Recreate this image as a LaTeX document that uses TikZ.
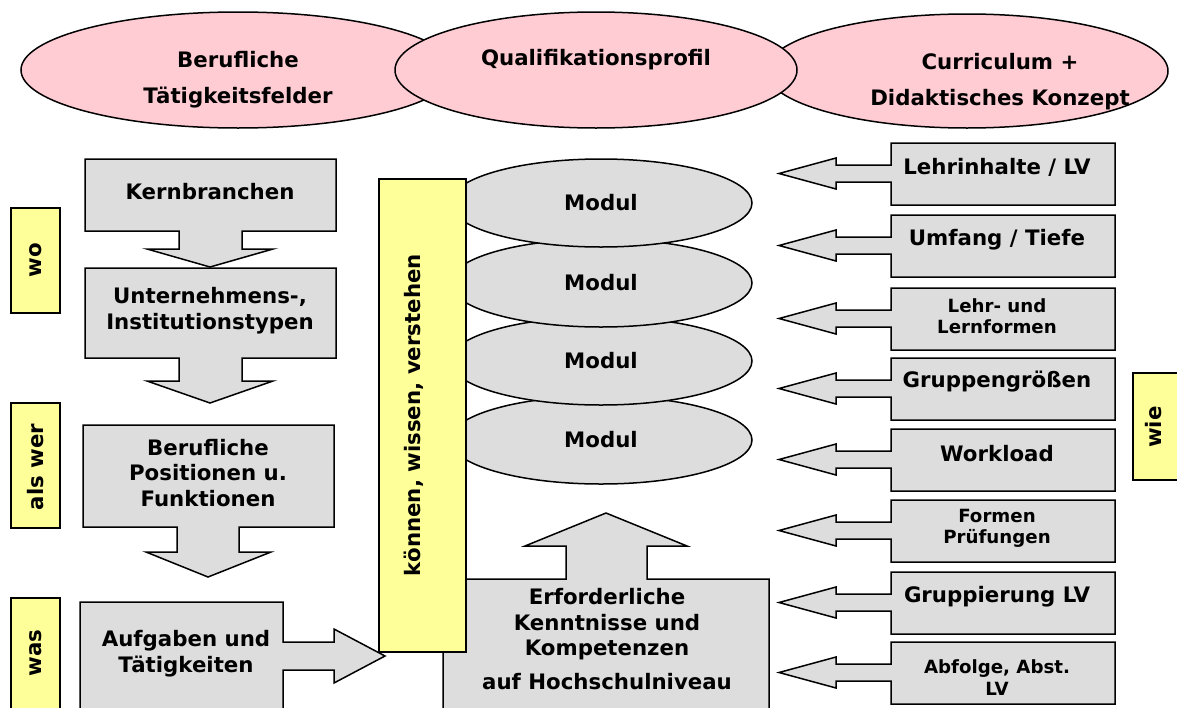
\documentclass[tikz,border=0pt]{standalone}
\usepackage{fontspec}
\setmainfont{DejaVu Sans}
\usetikzlibrary{shapes}

\definecolor{rosa}{RGB}{255,204,212}
\definecolor{hellgrau}{RGB}{221,221,221}
\definecolor{gelb}{RGB}{255,255,153}

\begin{document}
\begin{tikzpicture}[x=1pt,y=-1pt]
	\tikzstyle{oval}=[ellipse,draw,line width=1.5pt,inner sep=0pt]
	\tikzstyle{rosaoval}=[oval,fill=rosa,minimum height=116pt]
	\tikzstyle{modul}=[oval,fill=hellgrau,minimum width=302pt,minimum height=88pt,font=\bfseries\fontsize{21.3}{25}\selectfont]
	\tikzstyle{callout}=[draw,fill=hellgrau,line width=1.5pt]
	\tikzstyle{marke}=[draw,fill=gelb,line width=1.5pt]
	\tikzstyle{txt}=[align=center,font=\bfseries\fontsize{21.3}{25.5}\selectfont,inner sep=0pt]
	\tikzstyle{kleintxt}=[txt,font=\bfseries\fontsize{18.2}{21.5}\selectfont]
	\tikzstyle{ovaltxt}=[txt,font=\bfseries\fontsize{21.3}{36}\selectfont]
	\tikzstyle{hoch}=[txt,rotate=90]

	\useasboundingbox (0,0) rectangle (1177,707);
	\clip (0,0) rectangle (1177,707);

	% Kopfzeile
	\node[rosaoval,minimum width=434pt] (taet) at (238,70) {};
	\node[rosaoval,minimum width=402pt,minimum height=114pt] (curr) at (967,71) {};
	\node[rosaoval,minimum width=402pt] (quali) at (596,70) {};
	\node[ovaltxt] (taettxt) at (238,80) {Berufliche\\Tätigkeitsfelder};
	\node[txt] (qualitxt) at (596,60) {Qualifikationsprofil};
	\node[ovaltxt] (currtxt) at (1000,81.5) {Curriculum +\\Didaktisches Konzept};

	% wo, als wer, was
	\draw[callout] (85,159) -- (336,159) -- (336,231) -- (242,231) -- (242,249) -- (273,249) -- (210,267)
		-- (147,249) -- (179,249) -- (179,231) -- (85,231) -- cycle;
	\draw[callout] (85,268) -- (336,268) -- (336,358) -- (242,358) -- (242,381) -- (273,381) -- (210,403)
		-- (147,381) -- (179,381) -- (179,358) -- (85,358) -- cycle;
	\draw[callout] (83,425) -- (334,425) -- (334,527) -- (239,527) -- (239,552) -- (271,552) -- (208,577)
		-- (146,552) -- (177,552) -- (177,527) -- (83,527) -- cycle;
	\draw[callout] (80,602) -- (283,602) -- (283,642) -- (334,642) -- (334,629) -- (385,656)
		-- (334,683) -- (334,670) -- (283,670) -- (283,720) -- (80,720) -- cycle;
	\node[txt] (kern) at (210,192) {Kernbranchen};
	\node[txt] (untern) at (210,310.5) {Unternehmens-,\\Institutionstypen};
	\node[txt] (beruf) at (208,473) {Berufliche\\Positionen u.\\Funktionen};
	\node[txt] (aufg) at (186,653.5) {Aufgaben und\\Tätigkeiten};

	\draw[marke] (11,208) rectangle (60,313);
	\draw[marke] (11,403) rectangle (60,528);
	\draw[marke] (11,598) rectangle (60,720);
	\node[hoch] (wo) at (35.5,260.5) {wo};
	\node[hoch] (alswer) at (35.5,467) {als wer};
	\node[hoch] (was) at (35.5,653) {was};

	% Module
	\node[modul] (m4) at (601,440) {Modul};
	\node[modul] (m3) at (601,361) {Modul};
	\node[modul] (m2) at (601,283) {Modul};
	\node[modul] (m1) at (601,203) {Modul};

	\draw[callout] (443,579) -- (566,579) -- (566,546) -- (525,546) -- (606,513) -- (687,546)
		-- (647,546) -- (647,579) -- (769,579) -- (769,720) -- (443,720) -- cycle;
	\node[txt] (erf) at (607,639) {Erforderliche\\Kenntnisse und\\Kompetenzen\\[8pt]auf Hochschulniveau};

	\draw[marke] (379,179) rectangle (466,652);
	\node[hoch] (kww) at (414,415) {können, wissen, verstehen};

	% wie
	\foreach \t in {143,215,288,358,429,500,572,642}
		\draw[callout] (891,\t) -- (1115,\t) -- (1115,\t+62) -- (891,\t+62) -- (891,\t+39) -- (836,\t+39)
			-- (836,\t+46) -- (779,\t+30.5) -- (836,\t+15) -- (836,\t+22) -- (891,\t+22) -- cycle;
	\node[txt] (r1) at (997,167) {Lehrinhalte / LV};
	\node[txt] (r2) at (997,240) {Umfang / Tiefe};
	\node[kleintxt] (r3) at (997,316) {Lehr- und\\Lernformen};
	\node[txt] (r4) at (997,382) {Gruppengrößen};
	\node[txt] (r5) at (997,454) {Workload};
	\node[kleintxt] (r6) at (997,528.5) {Formen\\Prüfungen};
	\node[txt] (r7) at (997,597) {Gruppierung LV};
	\node[kleintxt] (r8) at (997,677.5) {Abfolge, Abst.\\LV};

	\draw[marke] (1133,373) rectangle (1190,480);
	\node[hoch] (wie) at (1154,427) {wie};
\end{tikzpicture}
\end{document}
